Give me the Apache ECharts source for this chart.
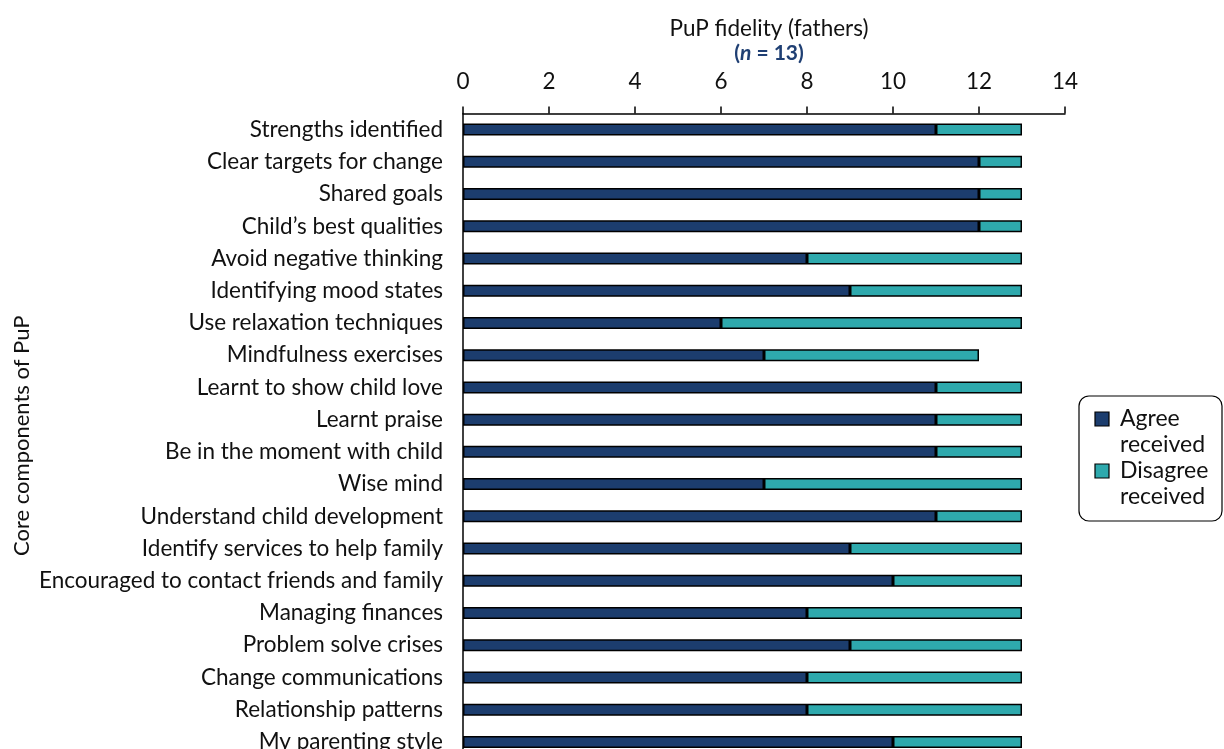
<!DOCTYPE html>
<html><head><meta charset="utf-8">
<script src="https://cdn.jsdelivr.net/npm/echarts@6/dist/echarts.min.js"></script>
<style>html,body{margin:0;padding:0;background:#fff;overflow:hidden}#c{width:1224px;height:760px}</style>
</head><body><div id="c"></div>
<script>
const categories = ['Strengths identified','Clear targets for change','Shared goals','Child\u2019s best qualities','Avoid negative thinking','Identifying mood states','Use relaxation techniques','Mindfulness exercises','Learnt to show child love','Learnt praise','Be in the moment with child','Wise mind','Understand child development','Identify services to help family','Encouraged to contact friends and family','Managing finances','Problem solve crises','Change communications','Relationship patterns','My parenting style'];
const agree    = [11,12,12,12,8,9,6,7,11,11,11,7,11,9,10,8,9,8,8,10];
const disagree = [2,1,1,1,5,4,7,5,2,2,2,6,2,4,3,5,4,5,5,3];
const xTicks = [0,14,2];
const seriesNames = ['Agree received','Disagree received'];
const colors = ['#1c3d6e','#2ea9ad'];
const F = 'Lato, "Open Sans", sans-serif';
const FS = 22.5;

const chart = echarts.init(document.getElementById('c'));
chart.setOption({
  animation:false,
  textStyle:{fontFamily:F},
  title:{
    left:764, top:11, textAlign:'center',
    text:'{a|PuP fidelity (fathers)}\n{b|(}{i|n}{b| = 13)}',
    textStyle:{fontWeight:'normal',rich:{
      a:{fontFamily:F,fontSize:FS,fontWeight:'normal',color:'#111',lineHeight:25},
      b:{fontFamily:F,fontSize:21,color:'#1f3f73',fontWeight:'bold',lineHeight:25},
      i:{fontFamily:F,fontSize:21,color:'#1f3f73',fontWeight:'bold',fontStyle:'italic',lineHeight:25}
    }}
  },
  grid:{left:463,right:159,top:113.5,bottom:2,containLabel:false},
  xAxis:{
    type:'value',position:'top',min:xTicks[0],max:xTicks[1],interval:xTicks[2],
    axisLine:{show:true,lineStyle:{color:'#000',width:1.5}},
    axisTick:{show:true,length:7,lineStyle:{color:'#000',width:1.5}},
    axisLabel:{fontFamily:F,fontSize:FS,color:'#111',margin:20},
    splitLine:{show:false}
  },
  yAxis:{
    type:'category',data:categories,inverse:true,
    axisLine:{show:true,lineStyle:{color:'#000',width:1.5}},
    axisTick:{show:false},
    axisLabel:{fontFamily:F,fontSize:FS,color:'#111',margin:20},
    name:'Core components of PuP',nameLocation:'middle',nameRotate:90,nameGap:430,
    nameTextStyle:{fontFamily:F,fontSize:22,color:'#111'}
  },
  series:[
    {name:seriesNames[0],type:'bar',stack:'s',data:agree,barWidth:12,
     itemStyle:{color:colors[0],borderColor:'#000',borderWidth:1.5}},
    {name:seriesNames[1],type:'bar',stack:'s',data:disagree,barWidth:12,
     itemStyle:{color:colors[1],borderColor:'#000',borderWidth:1.5}}
  ],
  graphic:[
    {type:'rect',shape:{x:1079,y:396,width:143,height:125,r:10},style:{fill:'#fff',stroke:'#000',lineWidth:1.2}},
    {type:'rect',shape:{x:1095,y:412,width:14,height:14},style:{fill:colors[0],stroke:'#000',lineWidth:1.2}},
    {type:'text',x:1120,y:406,style:{text:'Agree\nreceived',font:'23px '+F,fill:'#111',lineHeight:26}},
    {type:'rect',shape:{x:1095,y:464,width:14,height:14},style:{fill:colors[1],stroke:'#000',lineWidth:1.2}},
    {type:'text',x:1120,y:458,style:{text:'Disagree\nreceived',font:'23px '+F,fill:'#111',lineHeight:26}}
  ]
});
</script></body></html>
